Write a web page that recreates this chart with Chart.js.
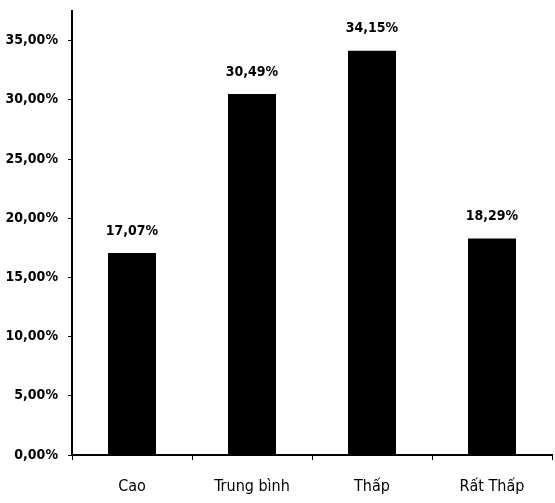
<!DOCTYPE html>
<html>
<head>
<meta charset="utf-8">
<script src="https://cdn.jsdelivr.net/npm/chart.js@4"></script>
<style>
  html, body { margin: 0; padding: 0; background: #fff; }
  #wrap { position: relative; width: 555px; height: 503px; }
</style>
</head>
<body>
<div id="wrap"><canvas id="chart"></canvas></div>
<script>
const categories = ["Cao", "Trung bình", "Thấp", "Rất Thấp"];
const shares = [17.07, 30.49, 34.15, 18.29];
const yTicks = [0, 5, 10, 15, 20, 25, 30, 35];

const FONT = "'DejaVu Sans Condensed', sans-serif";
const fmt = (v) => v.toFixed(2).replace(".", ",") + "%";

// value labels above each bar
const barLabels = {
  id: "barLabels",
  afterDatasetsDraw(chart) {
    const { ctx } = chart;
    const meta = chart.getDatasetMeta(0);
    ctx.save();
    ctx.fillStyle = "#000";
    ctx.font = `bold 14px ${FONT}`;
    ctx.textAlign = "center";
    ctx.textBaseline = "bottom";
    meta.data.forEach((bar, i) => {
      ctx.fillText(fmt(shares[i]), bar.x, bar.y - 15);
    });
    ctx.restore();
  },
};

new Chart(document.getElementById("chart"), {
  type: "bar",
  data: {
    labels: categories,
    datasets: [
      {
        data: shares,
        backgroundColor: "#000",
        borderWidth: 0,
        barPercentage: 0.4,
        categoryPercentage: 1,
      },
    ],
  },
  options: {
    responsive: true,
    maintainAspectRatio: false,
    animation: false,
    layout: { padding: { top: 11, right: 3, left: 0, bottom: 0 } },
    plugins: {
      legend: { display: false },
      tooltip: { enabled: false },
    },
    scales: {
      x: {
        grid: {
          drawOnChartArea: false,
          drawTicks: true,
          tickLength: 5,
          color: "#000",
          offset: true,
        },
        border: { color: "#000", width: 2 },
        ticks: {
          color: "#000",
          font: { family: FONT, size: 16 },
          padding: 17,
          maxRotation: 0,
        },
        afterFit: (s) => {
          s.height = 48;
          s.paddingLeft = 0;
          s.paddingRight = 0;
        },
      },
      y: {
        min: 0,
        max: 37.5,
        afterBuildTicks: (s) => { s.ticks = yTicks.map((v) => ({ value: v })); },
        grid: {
          drawOnChartArea: false,
          drawTicks: true,
          tickLength: 4,
          color: "#000",
        },
        border: { color: "#000", width: 2 },
        ticks: {
          color: "#000",
          font: { family: FONT, size: 14, weight: "bold" },
          padding: 10,
          callback: (v) => fmt(v),
        },
        afterFit: (s) => {
          s.width = 72;
          s.paddingTop = 0;
          s.paddingBottom = 0;
        },
      },
    },
  },
  plugins: [barLabels],
});
</script>
</body>
</html>
